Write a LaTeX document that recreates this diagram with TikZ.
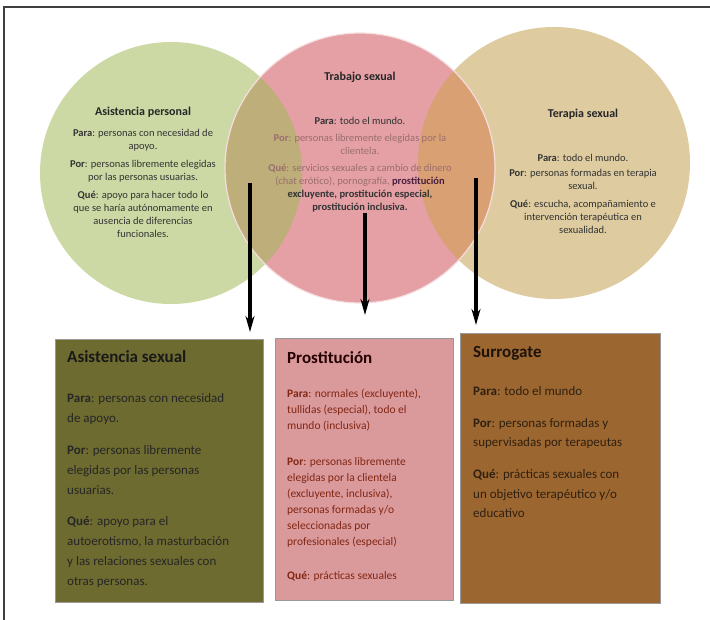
\documentclass[tikz,border=0pt]{standalone}
\usepackage{fontspec}
\setmainfont{Carlito}
\usetikzlibrary{arrows.meta,positioning,calc}
\definecolor{apgreen}{HTML}{CCD9A4}
\definecolor{tspink}{HTML}{E4A0A5}
\definecolor{tstan}{HTML}{DECBA0}
\definecolor{olivemix}{HTML}{BEAE7A}
\definecolor{orangemix}{HTML}{D9A074}
\definecolor{asbox}{HTML}{6E6B30}
\definecolor{prbox}{HTML}{DA9A9C}
\definecolor{sgbox}{HTML}{9C6630}
\definecolor{fadetxt}{HTML}{9A6E6E}
\definecolor{darkplum}{HTML}{4A2040}

\begin{document}
\begin{tikzpicture}[
  x=1pt, y=-1pt,
  ttl/.style={inner sep=0, font=\bfseries\fontsize{12}{14}\selectfont},
  body/.style={inner sep=0, align=center, font=\fontsize{10.5}{13}\selectfont},
  box/.style={draw=black!40, line width=0.9pt, anchor=north west, inner sep=0},
  boxttl/.style={inner sep=0, font=\bfseries\fontsize{17}{20}\selectfont},
  boxtxt/.style={inner sep=0, align=left, font=\fontsize{13}{20}\selectfont},
  arr/.style={-{Stealth[length=16pt, width=9pt]}, line width=3.2pt, draw=black}
]
\useasboundingbox (0,0) rectangle (710,620);
% frame
\draw[black!75, line width=1.3pt] (4,620) -- (4,7) -- (710,7);
% circles
\coordinate (apc) at (171,173);
\coordinate (tsc) at (360,168);
\coordinate (tpc) at (554,163);
\fill[apgreen] (apc) circle (131);
\fill[tstan] (tpc) circle (136);
\fill[tspink] (tsc) circle (135);
\begin{scope}
  \clip (tsc) circle (135);
  \fill[olivemix] (apc) circle (131);
  \fill[orangemix] (tpc) circle (136);
\end{scope}
\draw[white!65!tspink, line width=1.2pt] (tsc) circle (135);
% circle texts
\node[ttl, text=black!85] (apT) at (143,112) {Asistencia personal};
\node[body, text=black!80, below=11.5pt of apT] (apB) {\textbf{Para}: personas con necesidad de\\apoyo.\\[5pt]
  \textbf{Por}: personas libremente elegidas\\por las personas usuarias.\\[5pt]
  \textbf{Qué}: apoyo para hacer todo lo\\que se haría autónomamente en\\ausencia de diferencias\\funcionales.};
\node[ttl, text=black!85] (tsT) at (360,77) {Trabajo sexual};
\node[body, text=black!80, below=35pt of tsT] (tsB) {\textbf{Para}: todo el mundo.\\[3.5pt]
  \textcolor{fadetxt}{\textbf{Por}: personas libremente elegidas por la}\\
  \textcolor{fadetxt}{clientela.}\\[4pt]
  \textcolor{fadetxt}{\textbf{Qué}: servicios sexuales a cambio de dinero}\\
  \textcolor{fadetxt}{(chat erótico), pornografía,} \textcolor{darkplum}{\textbf{prostitución}}\\
  \textbf{excluyente, prostitución especial,}\\
  \textbf{prostitución inclusiva.}};
\node[ttl, text=black!85] (tpT) at (583,114) {Terapia sexual};
\node[body, text=black!80, below=35pt of tpT] (tpB) {\textbf{Para}: todo el mundo.\\[2pt]
  \textbf{Por}: personas formadas en terapia\\sexual.\\[5pt]
  \textbf{Qué}: escucha, acompañamiento e\\intervención terapéutica en\\sexualidad.};
% boxes
\node[box, fill=asbox, minimum width=208pt, minimum height=263pt] (asx) at (55,339) {};
\node[boxttl, text=black!90, below right=11pt and 12pt of asx.north west] (asxT) {Asistencia sexual};
\node[boxtxt, text=black!85, below right=31pt and 0pt of asxT.south west] (asxB) {\textbf{Para}: personas con necesidad\\de apoyo.\\[12pt]
  \textbf{Por}: personas libremente\\elegidas por las personas\\usuarias.\\[11pt]
  \textbf{Qué}: apoyo para el\\autoerotismo, la masturbación\\y las relaciones sexuales con\\otras personas.};
\node[box, fill=prbox, minimum width=178pt, minimum height=262pt] (pro) at (275,338) {};
\node[boxttl, text=black!85!red, below right=13.5pt and 12pt of pro.north west] (proT) {Prostitución};
\node[boxtxt, font=\fontsize{11.5}{16}\selectfont, text=black!60!red!70!brown, below right=25pt and 0pt of proT.south west] (proB) {\textbf{Para}: normales (excluyente),\\tullidas (especial), todo el\\mundo (inclusiva)\\[20pt]
  \textbf{Por}: personas libremente\\elegidas por la clientela\\(excluyente, inclusiva),\\personas formadas y/o\\seleccionadas por\\profesionales (especial)\\[18pt]
  \textbf{Qué}: prácticas sexuales};
\node[box, fill=sgbox, minimum width=200pt, minimum height=270pt] (sur) at (460,333) {};
\node[boxttl, text=black!85!brown, below right=13.5pt and 13pt of sur.north west] (surT) {Surrogate};
\node[boxtxt, font=\fontsize{13}{19.5}\selectfont, text=black!75!brown, below right=25pt and 0pt of surT.south west] (surB) {\textbf{Para}: todo el mundo\\[12.5pt]
  \textbf{Por}: personas formadas y\\supervisadas por terapeutas\\[12.5pt]
  \textbf{Qué}: prácticas sexuales con\\un objetivo terapéutico y/o\\educativo};
% arrows
\coordinate (a1) at (250,183);
\coordinate (a2) at (365,213);
\coordinate (a3) at (476,178);
\draw[arr, shorten >=7pt] (a1) -- (a1 |- asx.north);
\draw[arr, shorten >=23pt] (a2) -- (a2 |- pro.north);
\draw[arr, shorten >=8pt] (a3) -- (a3 |- sur.north);
\end{tikzpicture}
\end{document}
